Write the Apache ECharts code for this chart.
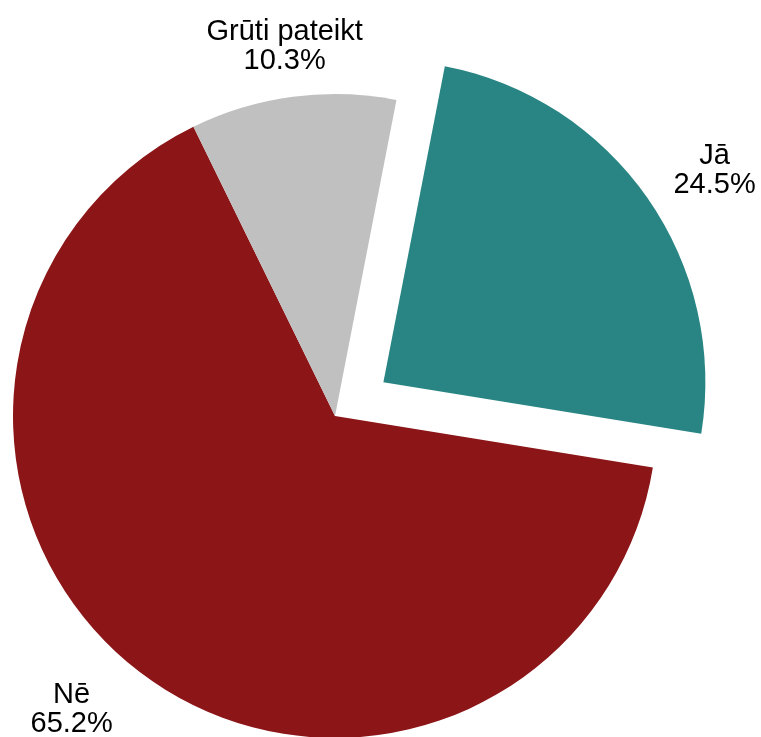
<!DOCTYPE html>
<html>
<head>
<meta charset="utf-8">
<script src="https://cdn.jsdelivr.net/npm/echarts@6/dist/echarts.min.js"></script>
<style>
  html, body { margin: 0; padding: 0; background: #fff; }
  #main { width: 761px; height: 737px; }
</style>
</head>
<body>
<div id="main"></div>
<script>
var categories = ['Jā', 'Nē', 'Grūti pateikt'];
var values = [24.5, 65.2, 10.3];
var colors = ['#288583', '#8b1517', '#c0c0c0'];
var exploded = [true, false, false];

var pieCenter = [335, 416];
var pieRadius = 322;
var startAngle = 79;
var explodeOffset = 59;
var labelLen = [66, 69, 54];
// small hand nudges for label placement, [dx, dy]
var labelNudge = [[13, 10], [0, 4], [-1, 3]];
var lineH = 29;

var chart = echarts.init(document.getElementById('main'), null, { renderer: 'canvas' });

// centre of the exploded slice, pushed out along its mid angle
var total = values.reduce(function (a, b) { return a + b; }, 0);
function explodedCenter(idx) {
  var before = 0;
  for (var i = 0; i < idx; i++) before += values[i];
  var mid = (startAngle - (before + values[idx] / 2) / total * 360) * Math.PI / 180;
  return [pieCenter[0] + Math.cos(mid) * explodeOffset,
          pieCenter[1] - Math.sin(mid) * explodeOffset];
}

function makeData(showExploded) {
  return categories.map(function (name, i) {
    var visible = exploded[i] === showExploded;
    return {
      name: name,
      value: values[i],
      itemStyle: { color: visible ? colors[i] : 'rgba(0,0,0,0)' },
      label: { show: visible },
      labelLine: { length: labelLen[i] }
    };
  });
}

function labelLayout(params) {
  var pts = params.labelLinePoints;
  if (!pts) return {};
  var dx = pts[1][0] - pts[0][0];
  var dy = pts[1][1] - pts[0][1];
  var len = Math.sqrt(dx * dx + dy * dy) || 1;
  var ux = dx / len, uy = dy / len;
  var cx = pts[0][0] - ux * pieRadius;
  var cy = pts[0][1] - uy * pieRadius;
  var R = pieRadius + len;
  var x = pts[1][0], y = pts[1][1];
  // keep label inside the bottom edge by sliding it round the circle
  var maxY = chart.getHeight() - lineH - 3;
  if (y > maxY) {
    var ny = maxY - cy;
    y = maxY;
    x = cx + (ux < 0 ? -1 : 1) * Math.sqrt(Math.max(R * R - ny * ny, 0));
  }
  var n = labelNudge[params.dataIndex] || [0, 0];
  return { x: x + n[0], y: y + n[1], align: 'center', verticalAlign: 'middle' };
}

function pieSeries(center, showExploded) {
  return {
    type: 'pie',
    center: center,
    radius: [0, pieRadius],
    startAngle: startAngle,
    clockwise: true,
    silent: true,
    avoidLabelOverlap: false,
    data: makeData(showExploded),
    label: {
      position: 'outside',
      formatter: function (p) {
        return p.name + '\n' + p.value.toFixed(1) + '%';
      },
      fontFamily: 'Liberation Sans, Arial, sans-serif',
      fontSize: 29,
      lineHeight: lineH,
      color: '#000'
    },
    labelLine: { show: false, length: 60, length2: 0 },
    labelLayout: labelLayout,
    emphasis: { disabled: true }
  };
}

chart.setOption({
  animation: false,
  series: [
    pieSeries(pieCenter, false),
    pieSeries(explodedCenter(0), true)
  ]
});
</script>
</body>
</html>
